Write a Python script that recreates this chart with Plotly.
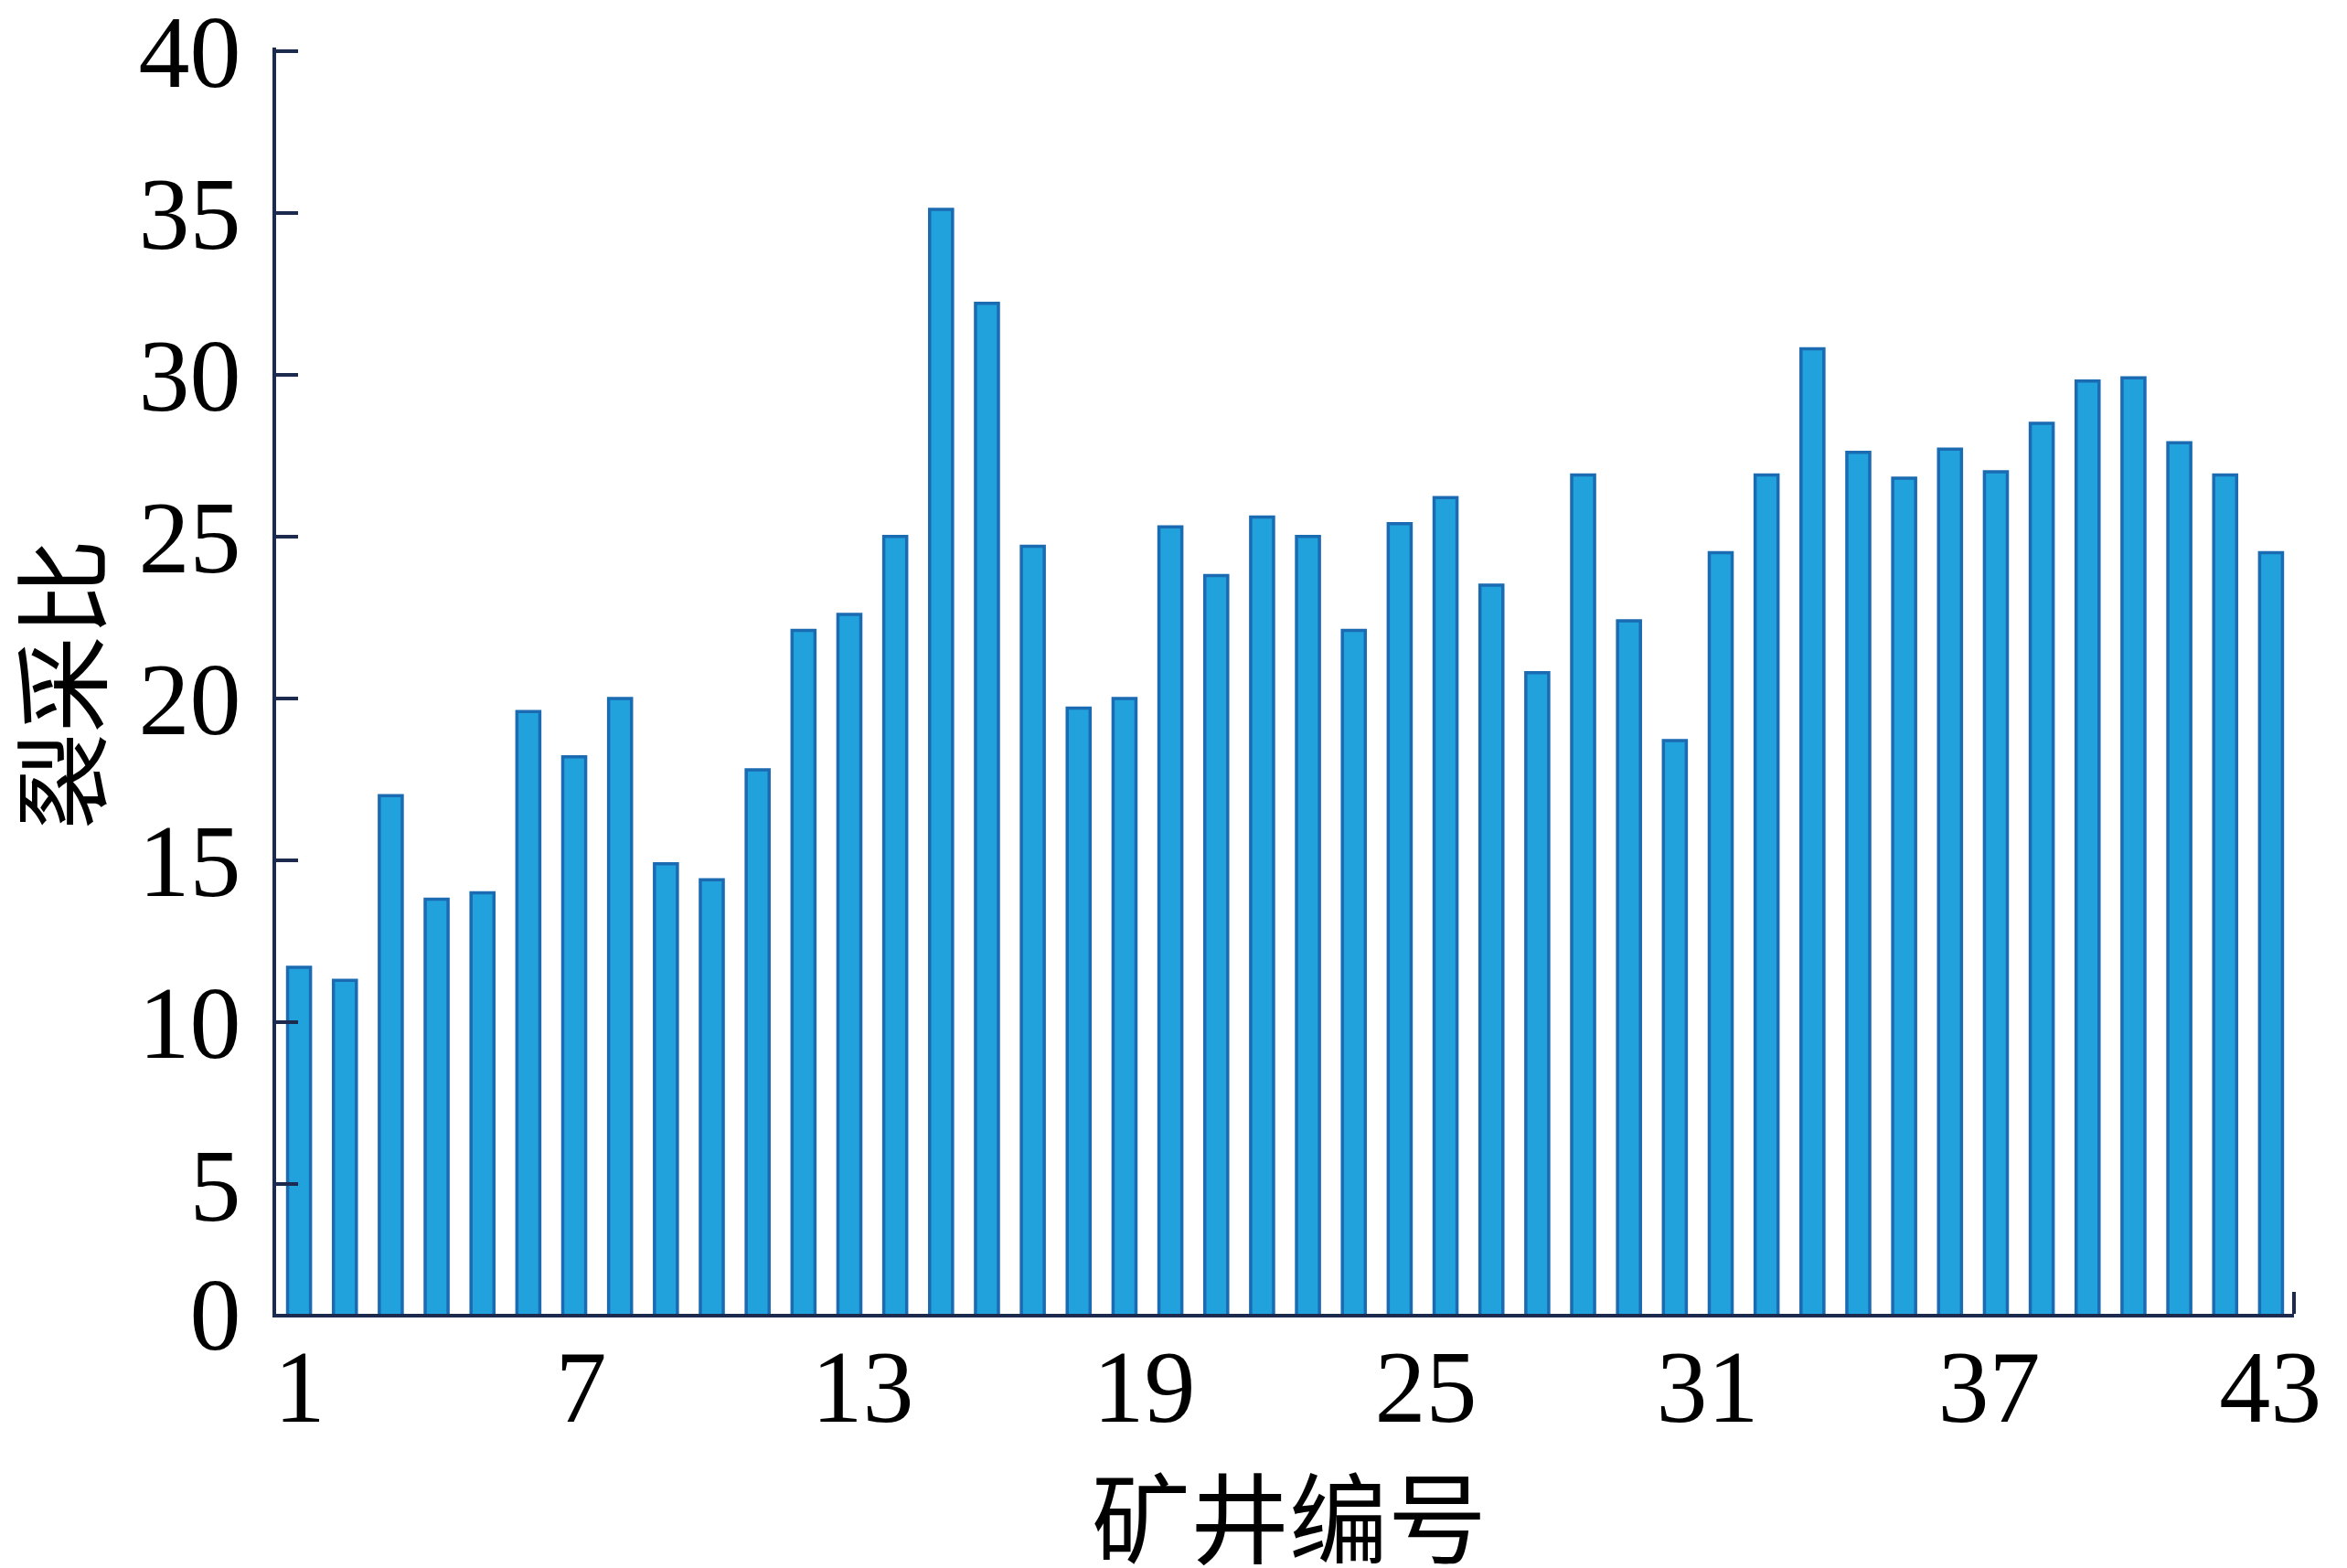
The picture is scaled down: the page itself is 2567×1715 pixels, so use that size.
import plotly.graph_objects as go

# ---- data ----
mine_ids = list(range(1, 45))
ratio = [11.7, 11.3, 17.0, 13.8, 14.0, 19.6, 18.2, 20.0, 14.9, 14.4,
         17.8, 22.1, 22.6, 25.0, 35.1, 32.2, 24.7, 19.7, 20.0, 25.3,
         23.8, 25.6, 25.0, 22.1, 25.4, 26.2, 23.5, 20.8, 26.9, 22.4,
         18.7, 24.5, 26.9, 30.8, 27.6, 26.8, 27.7, 27.0, 28.5, 29.8,
         29.9, 27.9, 26.9, 24.5]
x_tick_labels = [1, 7, 13, 19, 25, 31, 37, 43]
n_label_slots = 43
y_tick_values = [5, 10, 15, 20, 25, 30, 35, 40]
y_min = 1.0
y_max = 40.1
x_title = "矿井编号"
y_title = "裂采比"

n_bars = len(mine_ids)
# labels sit on a 43-slot scale spanning the same axis width as the 44 bars
x_tickvals = [0.5 + (k - 0.5) * n_bars / n_label_slots for k in x_tick_labels]

axis_color = "#1c2b4d"
fill_color = "#21A2DD"
edge_color = "#1B6BB3"
serif = "Liberation Serif"
cjk = "Noto Sans CJK SC"

fig = go.Figure()
fig.add_trace(go.Bar(
    x=mine_ids, y=ratio, width=0.5,
    marker=dict(color=fill_color, line=dict(color=edge_color, width=3.5)),
    showlegend=False,
))

fig.update_layout(
    width=2567, height=1715,
    margin=dict(l=294, r=66, t=44, b=286),
    plot_bgcolor="white", paper_bgcolor="white",
    bargap=0.5,
)

fig.update_xaxes(
    range=[0.5, n_bars + 0.5],
    tickvals=x_tickvals,
    ticktext=[str(k) for k in x_tick_labels],
    ticks="",
    showline=True, linecolor=axis_color, linewidth=4,
    showgrid=False, zeroline=False,
    automargin=False,
    tickfont=dict(family=serif, size=112, color="black"),
    ticklabelstandoff=-20,
    ticklabeloverflow="allow",
)

fig.update_yaxes(
    range=[y_min, y_max],
    tickvals=[y_min] + y_tick_values,
    ticktext=["0"] + [str(v) for v in y_tick_values],
    ticks="inside", ticklen=24, tickwidth=4, tickcolor=axis_color,
    showline=True, linecolor=axis_color, linewidth=4,
    showgrid=False, zeroline=False,
    automargin=False,
    tickfont=dict(family=serif, size=112, color="black"),
    ticklabelstandoff=12,
    ticklabeloverflow="allow",
)

# axis titles
fig.add_annotation(text=x_title, xref="paper", yref="paper", x=0.5, y=0,
                   xanchor="center", yanchor="middle", yshift=-218, xshift=4,
                   showarrow=False, font=dict(family=cjk, size=108, color="black"))
fig.add_annotation(text=y_title, xref="paper", yref="paper", x=0, y=0.5,
                   xanchor="center", yanchor="middle", xshift=-241, yshift=-4,
                   textangle=-90, showarrow=False,
                   font=dict(family=cjk, size=106, color="black"))

# small end mark at right end of x axis
fig.add_shape(type="line", xref="x domain", yref="y domain",
              x0=1, x1=1, y0=0, y1=24 / 1385,
              line=dict(color=axis_color, width=4))

fig.write_html("out.html")
